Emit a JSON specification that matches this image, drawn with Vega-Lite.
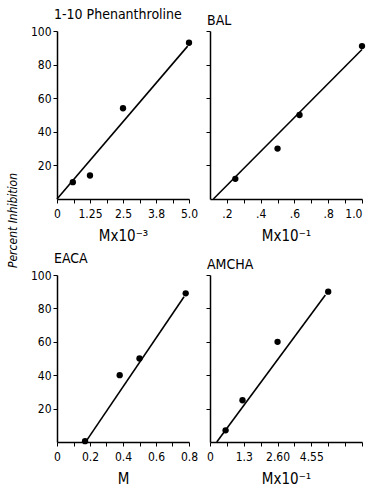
{
  "$schema": "https://vega.github.io/schema/vega-lite/v6.json",
  "background": "white",
  "padding": {"left": 6, "top": 8, "right": 0, "bottom": 0},
  "bounds": "flush",
  "columns": 2,
  "spacing": {"column": 21, "row": 76},
  "datasets": {
    "points": [
      {"agent": "1-10 Phenanthroline", "conc": 0.6, "inhib": 10},
      {"agent": "1-10 Phenanthroline", "conc": 1.25, "inhib": 14},
      {"agent": "1-10 Phenanthroline", "conc": 2.5, "inhib": 54},
      {"agent": "1-10 Phenanthroline", "conc": 5.0, "inhib": 93},
      {"agent": "BAL", "conc": 0.25, "inhib": 12},
      {"agent": "BAL", "conc": 0.5, "inhib": 30},
      {"agent": "BAL", "conc": 0.63, "inhib": 50},
      {"agent": "BAL", "conc": 1.0, "inhib": 91},
      {"agent": "EACA", "conc": 0.17, "inhib": 0.5},
      {"agent": "EACA", "conc": 0.38, "inhib": 40},
      {"agent": "EACA", "conc": 0.5, "inhib": 50},
      {"agent": "EACA", "conc": 0.78, "inhib": 89},
      {"agent": "AMCHA", "conc": 0.6, "inhib": 7},
      {"agent": "AMCHA", "conc": 1.25, "inhib": 25},
      {"agent": "AMCHA", "conc": 2.6, "inhib": 60},
      {"agent": "AMCHA", "conc": 4.55, "inhib": 90}
    ],
    "fits": [
      {"agent": "1-10 Phenanthroline", "conc": 0, "inhib": 0},
      {"agent": "1-10 Phenanthroline", "conc": 4.95, "inhib": 91},
      {"agent": "BAL", "conc": 0.12, "inhib": 0},
      {"agent": "BAL", "conc": 1.0, "inhib": 89},
      {"agent": "EACA", "conc": 0.18, "inhib": 1},
      {"agent": "EACA", "conc": 0.77, "inhib": 87},
      {"agent": "AMCHA", "conc": 0.26, "inhib": 0},
      {"agent": "AMCHA", "conc": 4.44, "inhib": 88}
    ]
  },
  "config": {
    "view": {"stroke": null},
    "font": "DejaVu Sans Condensed, DejaVu Sans",
    "axis": {
      "grid": false,
      "domainColor": "black",
      "domainWidth": 1.5,
      "tickColor": "black",
      "tickWidth": 1,
      "tickSize": 4,
      "labelColor": "black",
      "labelFont": "DejaVu Sans Condensed, DejaVu Sans",
      "labelFontSize": 12,
      "labelOverlap": false,
      "labelFlush": false,
      "titleColor": "black",
      "titleFont": "DejaVu Sans Condensed, DejaVu Sans",
      "titleFontSize": 15,
      "titleFontWeight": "normal"
    },
    "axisX": {"labelPadding": 5, "titlePadding": 9},
    "axisY": {"labelPadding": 2},
    "title": {
      "font": "DejaVu Sans Condensed, DejaVu Sans",
      "fontSize": 14,
      "fontWeight": "normal",
      "color": "black",
      "anchor": "start",
      "frame": "group",
      "offset": 3,
      "dx": -3
    }
  },
  "concat": [
    {
      "title": "1-10 Phenanthroline",
      "width": 132,
      "height": 168,
      "encoding": {
        "x": {"field": "conc", "type": "quantitative",
          "scale": {"domain": [0, 5], "nice": false},
          "axis": {"title": "Mx10⁻³", "values": [0, 0.625, 1.25, 1.875, 2.5, 3.125, 3.75, 4.375, 5],
            "labelExpr": "datum.value == 0 ? '0' : datum.value == 1.25 ? '1.25' : datum.value == 2.5 ? '2.5' : datum.value == 3.75 ? '3.8' : datum.value == 5 ? '5.0' : ''"}},
        "y": {"field": "inhib", "type": "quantitative",
          "scale": {"domain": [0, 100], "nice": false},
          "axis": {"values": [20, 40, 60, 80, 100], "title": "Percent Inhibition", "titleFontStyle": "italic", "titleFontSize": 12, "titleX": -38, "titleY": 189}}
      },
      "layer": [
        {"data": {"name": "fits"}, "transform": [{"filter": "datum.agent == '1-10 Phenanthroline'"}], "mark": {"type": "line", "color": "black", "strokeWidth": 1.6}},
        {"data": {"name": "points"}, "transform": [{"filter": "datum.agent == '1-10 Phenanthroline'"}], "mark": {"type": "point", "filled": true, "color": "black", "opacity": 1, "size": 40}}
      ]
    },
    {
      "title": "BAL",
      "width": 152,
      "height": 168,
      "encoding": {
        "x": {"field": "conc", "type": "quantitative",
          "scale": {"domain": [0.1, 1.0], "nice": false, "zero": false},
          "axis": {"title": "Mx10⁻¹", "labelFlush": true, "values": [0.2, 0.3, 0.4, 0.5, 0.6, 0.7, 0.8, 0.9, 1.0],
            "labelExpr": "datum.value == 0.2 ? '.2' : datum.value == 0.4 ? '.4' : datum.value == 0.6 ? '.6' : datum.value == 0.8 ? '.8' : datum.value == 1 ? '1.0' : ''"}},
        "y": {"field": "inhib", "type": "quantitative",
          "scale": {"domain": [0, 100], "nice": false},
          "axis": {"values": [20, 40, 60, 80, 100], "labels": false, "title": null}}
      },
      "layer": [
        {"data": {"name": "fits"}, "transform": [{"filter": "datum.agent == 'BAL'"}], "mark": {"type": "line", "color": "black", "strokeWidth": 1.6}},
        {"data": {"name": "points"}, "transform": [{"filter": "datum.agent == 'BAL'"}], "mark": {"type": "point", "filled": true, "color": "black", "opacity": 1, "size": 40}}
      ]
    },
    {
      "title": "EACA",
      "width": 132,
      "height": 167,
      "encoding": {
        "x": {"field": "conc", "type": "quantitative",
          "scale": {"domain": [0, 0.8], "nice": false},
          "axis": {"title": "M", "values": [0, 0.1, 0.2, 0.3, 0.4, 0.5, 0.6, 0.7, 0.8],
            "labelExpr": "datum.value == 0 ? '0' : datum.value == 0.2 ? '0.2' : datum.value == 0.4 ? '0.4' : datum.value == 0.6 ? '0.6' : datum.value == 0.8 ? '0.8' : ''"}},
        "y": {"field": "inhib", "type": "quantitative",
          "scale": {"domain": [0, 100], "nice": false},
          "axis": {"values": [20, 40, 60, 80, 100], "title": null}}
      },
      "layer": [
        {"data": {"name": "fits"}, "transform": [{"filter": "datum.agent == 'EACA'"}], "mark": {"type": "line", "color": "black", "strokeWidth": 1.6}},
        {"data": {"name": "points"}, "transform": [{"filter": "datum.agent == 'EACA'"}], "mark": {"type": "point", "filled": true, "color": "black", "opacity": 1, "size": 40}}
      ]
    },
    {
      "title": "AMCHA",
      "width": 152,
      "height": 167,
      "encoding": {
        "x": {"field": "conc", "type": "quantitative",
          "scale": {"domain": [0, 5.85], "nice": false},
          "axis": {"title": "Mx10⁻¹", "values": [0, 0.65, 1.3, 1.95, 2.6, 3.25, 3.9, 4.55, 5.2, 5.85],
            "labelExpr": "datum.value == 0 ? '0' : datum.value == 1.3 ? '1.3' : datum.value == 2.6 ? '2.60' : datum.value == 3.9 ? '4.55' : ''"}},
        "y": {"field": "inhib", "type": "quantitative",
          "scale": {"domain": [0, 100], "nice": false},
          "axis": {"values": [20, 40, 60, 80, 100], "labels": false, "title": null}}
      },
      "layer": [
        {"data": {"name": "fits"}, "transform": [{"filter": "datum.agent == 'AMCHA'"}], "mark": {"type": "line", "color": "black", "strokeWidth": 1.6}},
        {"data": {"name": "points"}, "transform": [{"filter": "datum.agent == 'AMCHA'"}], "mark": {"type": "point", "filled": true, "color": "black", "opacity": 1, "size": 40}}
      ]
    }
  ]
}
